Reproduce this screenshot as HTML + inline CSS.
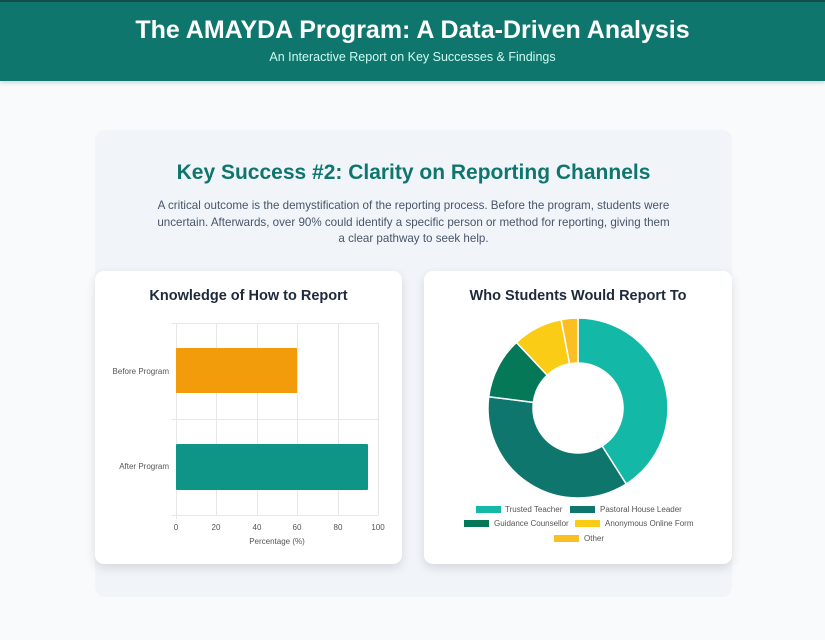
<!DOCTYPE html>
<html><head><meta charset="utf-8"><style>
*{margin:0;padding:0;box-sizing:border-box}
body{width:825px;height:640px;background:#f8fafc;font-family:"Liberation Sans",sans-serif;position:relative;overflow:hidden}
.hdr{position:absolute;left:0;top:0;width:825px;height:81px;background:#0f766e;border-top:2px solid #134e4a;box-shadow:0 2px 4px rgba(0,0,0,.15)}
.hdr h1{position:absolute;top:14px;width:100%;text-align:center;color:#fff;font-size:25px;font-weight:bold}
.hdr p{position:absolute;top:48px;width:100%;text-align:center;color:#ccfbf1;font-size:12.5px}
.sec{position:absolute;left:95px;top:130px;width:637px;height:467px;background:#f1f5f9;border-radius:10px}
.sec h2{position:absolute;top:31px;width:100%;text-align:center;color:#0f766e;font-size:21px;font-weight:bold}
.sec p{position:absolute;top:68px;left:60px;width:517px;text-align:center;color:#475569;font-size:11.6px;line-height:16.5px}
.card{position:absolute;top:271px;height:293px;background:#fff;border-radius:9px;box-shadow:0 4px 10px rgba(0,0,0,.12)}
.card h3{position:absolute;top:17px;width:100%;text-align:center;color:#1e293b;font-size:14.5px;font-weight:bold}
svg{position:absolute;left:0;top:0}
</style></head><body>
<div class="hdr"><h1>The AMAYDA Program: A Data-Driven Analysis</h1><p>An Interactive Report on Key Successes &amp; Findings</p></div>
<div class="sec"><h2>Key Success #2: Clarity on Reporting Channels</h2>
<p>A critical outcome is the demystification of the reporting process. Before the program, students were uncertain. Afterwards, over 90% could identify a specific person or method for reporting, giving them a clear pathway to seek help.</p></div>
<div class="card" style="left:95px;width:307px"><h3>Knowledge of How to Report</h3></div>
<div class="card" style="left:424px;width:308px"><h3>Who Students Would Report To</h3></div>
<svg width="825" height="640" font-family="Liberation Sans, sans-serif">
<g stroke="#e5e7eb" stroke-width="1">
<line x1="176.5" y1="323" x2="176.5" y2="519"/><line x1="216.5" y1="323" x2="216.5" y2="515"/><line x1="257.5" y1="323" x2="257.5" y2="515"/><line x1="297.5" y1="323" x2="297.5" y2="515"/><line x1="338.5" y1="323" x2="338.5" y2="515"/><line x1="378.5" y1="323" x2="378.5" y2="515"/>
<line x1="172" y1="323.5" x2="378" y2="323.5"/><line x1="172" y1="419.5" x2="378" y2="419.5"/><line x1="172" y1="515.5" x2="378" y2="515.5"/>
</g>
<rect x="176" y="348" width="121" height="45" fill="#f39c0b"/>
<rect x="176" y="444" width="192" height="46" fill="#0f9488" rx="1"/>
<g font-size="8" fill="#555" text-anchor="end"><text x="169" y="374">Before Program</text><text x="169" y="469">After Program</text></g>
<g font-size="8" fill="#555" text-anchor="middle"><text x="176" y="530">0</text><text x="216" y="530">20</text><text x="257" y="530">40</text><text x="297" y="530">60</text><text x="338" y="530">80</text><text x="378" y="530">100</text><text x="277" y="544">Percentage (%)</text></g>
<g id="donut" stroke="#fff" stroke-width="1.5"></g>
<g font-size="8" fill="#555">
<rect x="476" y="506" width="25" height="7" fill="#14b8a6"/><text x="505" y="512">Trusted Teacher</text>
<rect x="570" y="506" width="25" height="7" fill="#0f766e"/><text x="600" y="512">Pastoral House Leader</text>
<rect x="464" y="520" width="25" height="7" fill="#047857"/><text x="494" y="526">Guidance Counsellor</text>
<rect x="575" y="520" width="25" height="7" fill="#facc15"/><text x="605" y="526">Anonymous Online Form</text>
<rect x="554" y="535" width="25" height="7" fill="#fbbf24"/><text x="584" y="541">Other</text>
</g>
</svg>
<script>
var d=[41,36,11,9,3],c=["#14b8a6","#0f766e","#047857","#facc15","#fbbf24"],cx=578,cy=408,R=90,r=45,a=0,h="";
function p(ang,rad){var t=ang/100*2*Math.PI;return [cx+rad*Math.sin(t),cy-rad*Math.cos(t)];}
d.forEach(function(v,i){var b=a+v,l=v>50?1:0,p1=p(a,R),p2=p(b,R),p3=p(b,r),p4=p(a,r);
h+='<path fill="'+c[i]+'" d="M'+p1+' A'+R+','+R+' 0 '+l+' 1 '+p2+' L'+p3+' A'+r+','+r+' 0 '+l+' 0 '+p4+'Z"/>';a=b;});
document.getElementById("donut").innerHTML=h;
</script>
</body></html>
